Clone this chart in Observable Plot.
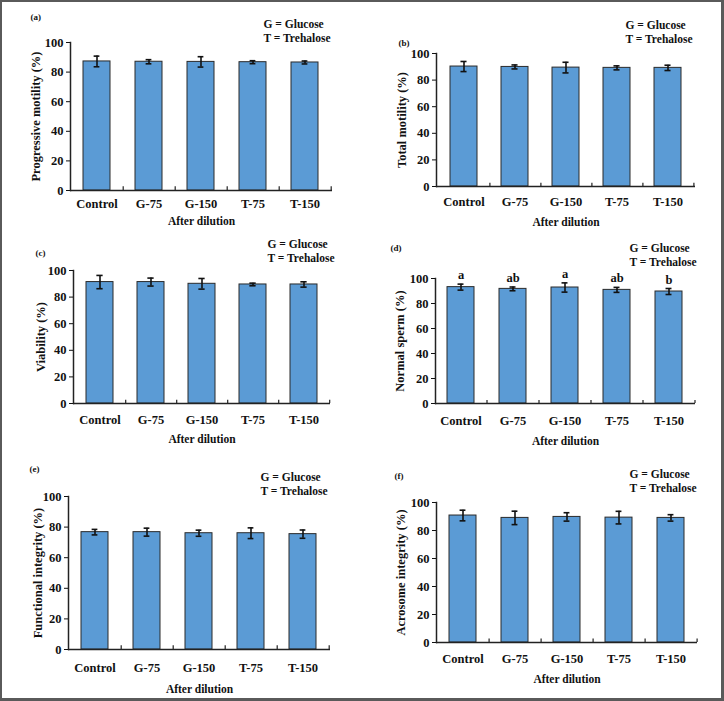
<!DOCTYPE html>
<html><head><meta charset="utf-8">
<script src="https://cdn.jsdelivr.net/npm/d3@7"></script>
<script src="https://cdn.jsdelivr.net/npm/@observablehq/plot@0.6"></script>
<style>
body{margin:0;background:#fff}
#fig{position:relative;width:724px;height:701px;background:#fff;overflow:hidden}
#fig svg{position:absolute}
#border{position:absolute;left:0;top:0;width:724px;height:701px;box-sizing:border-box;border-left:2px solid #5a5a5a;border-top:2px solid #5a5a5a;border-right:3px solid #5a5a5a;border-bottom:3px solid #5a5a5a;pointer-events:none}
</style></head><body><div id="fig"><div id="border"></div></div>
<script>
const categories = ["Control", "G-75", "G-150", "T-75", "T-150"];
const yTicks = [0, 20, 40, 60, 80, 100];
const legendText = "G = Glucose\nT = Trehalose";
const xTitle = "After dilution";

const progressiveMean = [87.2, 87.0, 86.9, 86.7, 86.5];
const progressiveErr  = [3.6, 1.4, 3.5, 1.0, 1.0];
const totalMean = [90.2, 89.9, 89.4, 89.2, 89.2];
const totalErr  = [3.8, 1.5, 4.0, 1.5, 2.0];
const viabilityMean = [91.3, 91.3, 90.0, 89.5, 89.5];
const viabilityErr  = [5.0, 3.0, 4.0, 1.0, 2.0];
const normalMean = [93.1, 91.7, 92.8, 90.9, 89.6];
const normalErr  = [2.4, 1.5, 3.7, 2.0, 2.4];
const normalLetters = ["a", "ab", "a", "ab", "b"];
const functionalMean = [76.7, 76.7, 76.0, 76.0, 75.4];
const functionalErr  = [1.8, 2.6, 2.0, 3.5, 2.7];
const acrosomeMean = [90.7, 89.0, 89.7, 89.2, 89.0];
const acrosomeErr  = [3.8, 4.8, 3.0, 4.5, 2.3];

const panels = [
  {tag:"(a)", label:"Progressive motility (%)", mean:progressiveMean, err:progressiveErr,
   left:0, top:0, w:362, h:230, mL:70, mR:30, mT:42, mB:40, tagX:30, tagY:17, legX:263, legY:30, ylabX:35, tickPad:9, xlabY:221},
  {tag:"(b)", label:"Total motility (%)", mean:totalMean, err:totalErr,
   left:362, top:0, w:362, h:230, mL:74, mR:29, mT:53, mB:44, tagX:36, tagY:43, legX:263, legY:31, ylabX:39, tickPad:11, xlabY:222},
  {tag:"(c)", label:"Viability (%)", mean:viabilityMean, err:viabilityErr,
   left:0, top:230, w:362, h:230, mL:73, mR:32, mT:40, mB:57, tagX:35, tagY:23, legX:267, legY:20, ylabX:40, tickPad:12, xlabY:209},
  {tag:"(d)", label:"Normal sperm (%)", mean:normalMean, err:normalErr, letters:normalLetters,
   left:362, top:230, w:362, h:230, mL:73, mR:29, mT:48, mB:57, tagX:28, tagY:18, legX:267, legY:24, ylabX:37, tickPad:13, xlabY:211},
  {tag:"(e)", label:"Functional integrity (%)", mean:functionalMean, err:functionalErr,
   left:0, top:460, w:362, h:241, mL:68, mR:32, mT:36, mB:52, tagX:29, tagY:9, legX:260, legY:23, ylabX:37, tickPad:14, xlabY:229},
  {tag:"(f)", label:"Acrosome integrity (%)", mean:acrosomeMean, err:acrosomeErr,
   left:362, top:460, w:362, h:241, mL:74, mR:27, mT:42, mB:59, tagX:32, tagY:16, legX:267, legY:20, ylabX:38, tickPad:12, xlabY:219}
];

const serif = "'Liberation Serif', 'Times New Roman', serif";
const fig = document.getElementById("fig");

function makePanel(p) {
  const data = categories.map((c, i) => ({c, v: p.mean[i], e: p.err[i], t: p.letters ? p.letters[i] : ""}));
  const step = (p.w - p.mL - p.mR) / categories.length;
  const bw = step * (1 - 0.48);
  const capInset = (bw - 6) / 2;
  const marks = [
    Plot.barY(data, {x: "c", y: "v", fill: "#5b9bd5", stroke: "#2a2a2a", strokeWidth: 1}),
    Plot.ruleX(data, {x: "c", y1: d => d.v - d.e, y2: d => d.v + d.e, stroke: "#111", strokeWidth: 1.6}),
    Plot.tickY(data, {x: "c", y: d => d.v + d.e, insetLeft: capInset, insetRight: capInset, stroke: "#111", strokeWidth: 1.6}),
    Plot.tickY(data, {x: "c", y: d => d.v - d.e, insetLeft: capInset, insetRight: capInset, stroke: "#111", strokeWidth: 1.6}),
    Plot.ruleY([0], {stroke: "#222", strokeWidth: 1.5}),
    Plot.frame({anchor: "left", stroke: "#222", strokeWidth: 1.5}),
    Plot.ruleX(data, {x: "c", dx: step / 2, y1: 0, y2: 2.5, stroke: "#222", strokeWidth: 1.2}),
    Plot.axisY({ticks: yTicks, tickSize: 4, tickPadding: 3, label: null, fontSize: 12.5}),
    Plot.axisX({tickSize: 0, tickPadding: p.tickPad, label: null, fontSize: 12.5}),
    Plot.text([p.label], {frameAnchor: "left", dx: -(p.mL - p.ylabX), rotate: -90, textAnchor: "middle", lineAnchor: "middle", fontSize: 12.5}),
    Plot.text([xTitle], {frameAnchor: "bottom", dy: p.xlabY - (p.h - p.mB), textAnchor: "middle", lineAnchor: "middle", fontSize: 11.5}),
    Plot.text([p.tag], {frameAnchor: "top-left", dx: p.tagX - p.mL, dy: p.tagY - p.mT, textAnchor: "start", lineAnchor: "middle", fontSize: 9}),
    Plot.text([legendText], {frameAnchor: "top-left", dx: p.legX - p.mL, dy: p.legY - p.mT, textAnchor: "start", lineAnchor: "middle", lineHeight: 1.25, fontSize: 11.5})
  ];
  if (p.letters) {
    marks.push(Plot.text(data, {x: "c", y: d => d.v + d.e, text: "t", dy: -9, lineAnchor: "middle", fontSize: 12.5}));
  }
  const svg = Plot.plot({
    width: p.w, height: p.h,
    marginLeft: p.mL, marginRight: p.mR, marginTop: p.mT, marginBottom: p.mB,
    x: {domain: categories, paddingInner: 0.48, paddingOuter: 0.24},
    y: {domain: [0, 100]},
    style: {fontFamily: serif, fontWeight: "bold", fontSize: "12px", color: "#111", background: "transparent", overflow: "visible"},
    marks
  });
  svg.style.left = p.left + "px";
  svg.style.top = p.top + "px";
  fig.insertBefore(svg, document.getElementById("border"));
}
panels.forEach(makePanel);
</script>
</body></html>
